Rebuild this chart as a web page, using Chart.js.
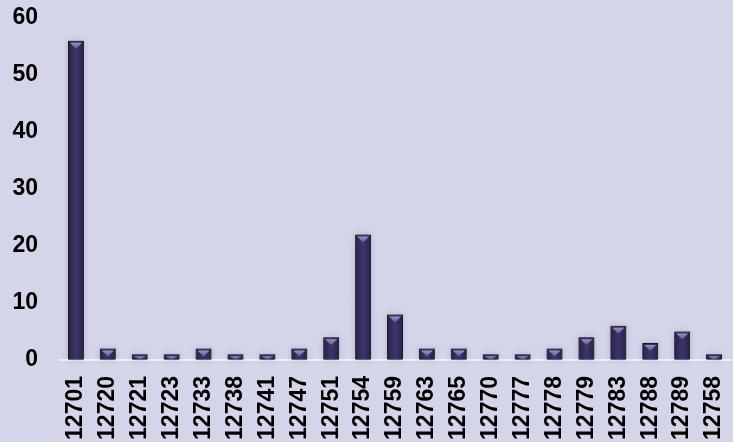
<!DOCTYPE html>
<html>
<head>
<meta charset="utf-8">
<script src="https://cdn.jsdelivr.net/npm/chart.js@4/dist/chart.umd.min.js"></script>
<style>
html,body{margin:0;padding:0;background:#d4d5e8;}
#wrap{width:733px;height:442px;}
</style>
</head>
<body>
<div id="wrap"><canvas id="c" width="733" height="442"></canvas></div>
<script>
const categories = ["12701","12720","12721","12723","12733","12738","12741","12747","12751","12754","12759","12763","12765","12770","12777","12778","12779","12783","12788","12789","12758"];
const counts = [56,2,1,1,2,1,1,2,4,22,8,2,2,1,1,2,4,6,3,5,1];
const yTicks = [0,10,20,30,40,50,60];

const bevelPlugin = {
  id: 'bevel',
  beforeDatasetsDraw(chart){
    const ctx = chart.ctx;
    const meta = chart.getDatasetMeta(0);
    ctx.save();
    ctx.shadowColor = 'rgba(40,35,70,0.5)';
    ctx.shadowBlur = 6;
    meta.data.forEach(b=>{
      const w = b.width, x = b.x - w/2, top = b.y, h = b.base - b.y;
      ctx.fillStyle = 'rgba(60,55,90,0.35)';
      ctx.fillRect(x, top, w, h);
    });
    ctx.restore();
  },
  afterDatasetsDraw(chart){
    const ctx = chart.ctx;
    const meta = chart.getDatasetMeta(0);
    ctx.save();
    meta.data.forEach(b=>{
      const w = b.width, x = b.x - w/2, top = b.y, h = b.base - b.y;
      const g = ctx.createLinearGradient(x,0,x+w,0);
      g.addColorStop(0,'#211d3c');
      g.addColorStop(0.15,'#2e2952');
      g.addColorStop(0.5,'#3d3569');
      g.addColorStop(0.85,'#2e2952');
      g.addColorStop(1,'#211d3c');
      ctx.fillStyle = g;
      ctx.fillRect(x+1, top+1, w-2, h-1);
      const th = Math.min(6, h-2);
      if (th > 1){
        const tg = ctx.createLinearGradient(0,top,0,top+th+2);
        tg.addColorStop(0,'#aaa6d4');
        tg.addColorStop(1,'#5c5590');
        ctx.fillStyle = tg;
        ctx.beginPath();
        ctx.moveTo(x+2, top+2);
        ctx.lineTo(x+w-2, top+2);
        ctx.lineTo(b.x, top+2+th);
        ctx.closePath();
        ctx.fill();
      }
    });
    ctx.restore();
  }
};

new Chart(document.getElementById('c'), {
  type: 'bar',
  data: {
    labels: categories,
    datasets: [{
      data: counts,
      backgroundColor: '#231f3e',
      borderColor: '#1a1730',
      borderWidth: 1,
      categoryPercentage: 1,
      barPercentage: 0.5
    }]
  },
  options: {
    responsive: false,
    animation: false,
    layout: { padding: { top: 18, right: 3, left: 0, bottom: 0 } },
    plugins: { legend: { display: false }, tooltip: { enabled: false } },
    scales: {
      x: {
        afterFit(axis){ axis.paddingLeft = 0; axis.paddingRight = 0; axis.height = 82; },
        grid: { display: false, drawTicks: false },
        border: { display: true, color: '#eeeef6', width: 2 },
        ticks: {
          color: '#000',
          font: { family: 'Liberation Sans', size: 23, weight: 'bold' },
          minRotation: 90, maxRotation: 90,
          padding: 16,
          autoSkip: false
        }
      },
      y: {
        min: 0, max: 60,
        afterBuildTicks(axis){ axis.ticks = yTicks.map(v=>({value:v})); },
        afterFit(axis){ axis.width = 60; axis.paddingTop = 0; axis.paddingBottom = 0; },
        grid: { color: 'rgba(225,215,235,0.35)', drawTicks: false },
        border: { display: false },
        ticks: {
          color: '#000',
          font: { family: 'Liberation Sans', size: 23, weight: 'bold' },
          padding: 22
        }
      }
    }
  },
  plugins: [bevelPlugin]
});
</script>
</body>
</html>
